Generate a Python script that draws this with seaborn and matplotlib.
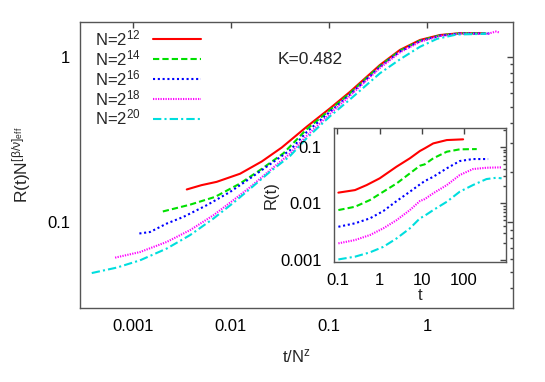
"""
Finite-size scaling collapse of R(t) for several system sizes,
with the raw (unscaled) curves shown in an inset.
"""

import numpy as np
import pandas as pd
import matplotlib
matplotlib.use("Agg")
import matplotlib.pyplot as plt
from matplotlib import ticker
import seaborn as sns

EXPONENTS = [12, 14, 16, 18, 20]
K_LABEL = "K=0.482"

# main panel: rescaled curves, stored as log10(t/N^z) and log10(R N^[b/v])
LOGX_12 = [-2.450, -2.300, -2.145, -1.907, -1.686, -1.483, -1.228, -0.991, -0.787, -0.482,
           -0.278, -0.074, 0.130, 0.334, 0.55]
LOGY_12 = [-0.802, -0.776, -0.756, -0.707, -0.633, -0.549, -0.423, -0.312, -0.212, -0.050,
           0.041, 0.101, 0.131, 0.142, 0.142]

LOGX_14 = [-2.694, -2.417, -2.162, -1.907, -1.704, -1.466, -1.228, -0.991, -0.787, -0.482,
           -0.278, -0.074, 0.130, 0.334, 0.60]
LOGY_14 = [-0.935, -0.894, -0.847, -0.766, -0.685, -0.584, -0.438, -0.322, -0.220, -0.056,
           0.036, 0.097, 0.129, 0.141, 0.141]

LOGX_16 = [-2.933, -2.824, -2.654, -2.485, -2.246, -2.009, -1.805, -1.602, -1.398, -1.228,
           -0.991, -0.787, -0.482, -0.278, -0.074, 0.130, 0.334, 0.64]
LOGY_16 = [-1.068, -1.059, -1.008, -0.968, -0.897, -0.817, -0.735, -0.650, -0.565, -0.455,
           -0.332, -0.228, -0.062, 0.031, 0.094, 0.127, 0.140, 0.140]

LOGX_18 = [-3.180, -2.926, -2.654, -2.417, -2.179, -1.976, -1.805, -1.602, -1.398, -1.228,
           -0.991, -0.787, -0.482, -0.278, -0.074, 0.130, 0.334, 0.62, 0.70, 0.74]
LOGY_18 = [-1.214, -1.180, -1.119, -1.048, -0.958, -0.867, -0.788, -0.686, -0.585, -0.478,
           -0.345, -0.236, -0.068, 0.026, 0.090, 0.125, 0.139, 0.139, 0.152, 0.145]

LOGX_20 = [-3.418, -3.163, -2.926, -2.654, -2.417, -2.179, -1.976, -1.805, -1.602, -1.398,
           -1.228, -0.991, -0.787, -0.482, -0.278, -0.074, 0.100, 0.300, 0.60]
LOGY_20 = [-1.307, -1.274, -1.230, -1.159, -1.078, -0.978, -0.883, -0.798, -0.695, -0.600,
           -0.492, -0.360, -0.258, -0.100, -0.016, 0.060, 0.108, 0.134, 0.138]

# inset: raw R(t)
T_12 = [0.105, 0.26, 0.49, 1.0, 2.5, 5.2, 9.0, 11.7, 18.6, 39, 95]
R_12 = [0.0155, 0.0172, 0.0211, 0.0278, 0.0447, 0.0631, 0.0851, 0.0948, 0.116, 0.133, 0.137]

T_14 = [0.105, 0.26, 0.59, 1.22, 2.53, 5.2, 9.0, 11.7, 18.6, 39, 79, 200]
R_14 = [0.0076, 0.0087, 0.01146, 0.0161, 0.0226, 0.0341, 0.0466, 0.0493, 0.0631, 0.0826, 0.091, 0.092]

T_16 = [0.105, 0.26, 0.59, 1.22, 2.53, 5.2, 9.0, 11.7, 18.6, 39, 79, 162, 372]
R_16 = [0.00384, 0.00442, 0.00542, 0.0073, 0.011, 0.0161, 0.0217, 0.0249, 0.0296, 0.0419, 0.0564,
        0.0612, 0.0612]

T_18 = [0.105, 0.26, 0.59, 1.22, 2.53, 5.2, 9.0, 11.7, 18.6, 39, 79, 162, 340, 776]
R_18 = [0.00195, 0.00223, 0.00274, 0.0036, 0.00505, 0.0076, 0.011, 0.0119, 0.0151, 0.0211,
        0.0318, 0.0406, 0.0429, 0.0436]

T_20 = [0.105, 0.26, 0.59, 1.22, 2.53, 5.2, 9.0, 11.7, 18.6, 39, 79, 162, 340, 590, 776]
R_20 = [0.00101, 0.00113, 0.00135, 0.00169, 0.00239, 0.0036, 0.00542, 0.00603, 0.0076, 0.01067,
        0.0161, 0.0211, 0.027, 0.0285, 0.0278]

COLORS = ["#ff0000", "#00e000", "#0000ff", "#ff00ff", "#00dede"]
STYLES = ["-", (0, (3, 1.5)), (0, (1, 1.3)), (0, (0.6, 0.6)), (0, (4, 1.5, 1, 1.5))]

main_frames, inset_frames = [], []
for n, lx, ly, t, r in zip(EXPONENTS,
                           [LOGX_12, LOGX_14, LOGX_16, LOGX_18, LOGX_20],
                           [LOGY_12, LOGY_14, LOGY_16, LOGY_18, LOGY_20],
                           [T_12, T_14, T_16, T_18, T_20],
                           [R_12, R_14, R_16, R_18, R_20]):
    main_frames.append(pd.DataFrame({"x": 10.0 ** np.array(lx), "y": 10.0 ** np.array(ly), "N": n}))
    inset_frames.append(pd.DataFrame({"t": t, "R": r, "N": n}))
df_main = pd.concat(main_frames, ignore_index=True)
df_in = pd.concat(inset_frames, ignore_index=True)

sns.set_theme(style="white")
plt.rcParams["font.family"] = ["Liberation Sans", "DejaVu Sans"]
plt.rcParams["mathtext.fontset"] = "custom"
plt.rcParams["mathtext.rm"] = "Liberation Sans"
plt.rcParams["mathtext.default"] = "regular"

fig = plt.figure(figsize=(5.45, 3.82), dpi=100)
ax = fig.add_axes([0.1468, 0.1929, 0.795, 0.7495])
ax_in = fig.add_axes([0.6128, 0.3149, 0.315, 0.3492])

for i, n in enumerate(EXPONENTS):
    sns.lineplot(data=df_main[df_main["N"] == n], x="x", y="y", ax=ax, color=COLORS[i],
                 linestyle=STYLES[i], linewidth=1.5, estimator=None, sort=False,
                 label=f"N=2$^{{{n}}}$", legend=False)
    sns.lineplot(data=df_in[df_in["N"] == n], x="t", y="R", ax=ax_in, color=COLORS[i],
                 linestyle=STYLES[i], linewidth=1.5, estimator=None, sort=False, legend=False)

fmt = ticker.FuncFormatter(lambda v, _: f"{v:g}")
for a in (ax, ax_in):
    a.set_xscale("log")
    a.set_yscale("log")
    a.xaxis.set_major_formatter(fmt)
    a.yaxis.set_major_formatter(fmt)
    a.xaxis.set_minor_locator(ticker.NullLocator())
    a.yaxis.set_minor_locator(ticker.LogLocator(base=10, subs=np.arange(2, 10)))
    a.yaxis.set_minor_formatter(ticker.NullFormatter())
    a.tick_params(which="both", direction="in", top=True, right=True,
                  labelsize=12, colors="#444444", labelcolor="black")
    a.tick_params(which="major", length=4.5, width=1)
    a.tick_params(which="minor", length=2.5, width=1)
    for s in a.spines.values():
        s.set_color("#555555")
        s.set_linewidth(1.0)

ax.set_xlim(2.9e-4, 7.52)
ax.set_ylim(0.0302, 1.62)
ax.set_xticks([0.001, 0.01, 0.1, 1])
ax.set_yticks([0.1, 1])
ax.tick_params(axis="x", pad=8)
ax.tick_params(axis="y", pad=7)
ax.set_xlabel("t/N$^{z}$", fontsize=12, labelpad=9)
ax.set_ylabel("R(t)N$^{[β/ν]_{eff}}$", fontsize=12.5, labelpad=10)
ax.text(0.455, 0.87, K_LABEL, transform=ax.transAxes, fontsize=12.5, va="center")

ax_in.set_xlim(0.0826, 968)
ax_in.set_ylim(0.00092, 0.215)
ax_in.set_xticks([0.1, 1, 10, 100])
ax_in.set_yticks([0.001, 0.01, 0.1])
ax_in.tick_params(axis="x", pad=8)
ax_in.tick_params(axis="y", pad=9)
ax_in.set_xlabel("t", fontsize=12, labelpad=0)
ax_in.set_ylabel("R(t)", fontsize=12, labelpad=1)

ax.legend(loc="upper left", bbox_to_anchor=(0.035, 0.978), frameon=False,
          markerfirst=False, fontsize=12, handlelength=2.85, handletextpad=0.75,
          labelspacing=0.0, borderpad=0, borderaxespad=0)

fig.savefig("out.png", dpi=100)
